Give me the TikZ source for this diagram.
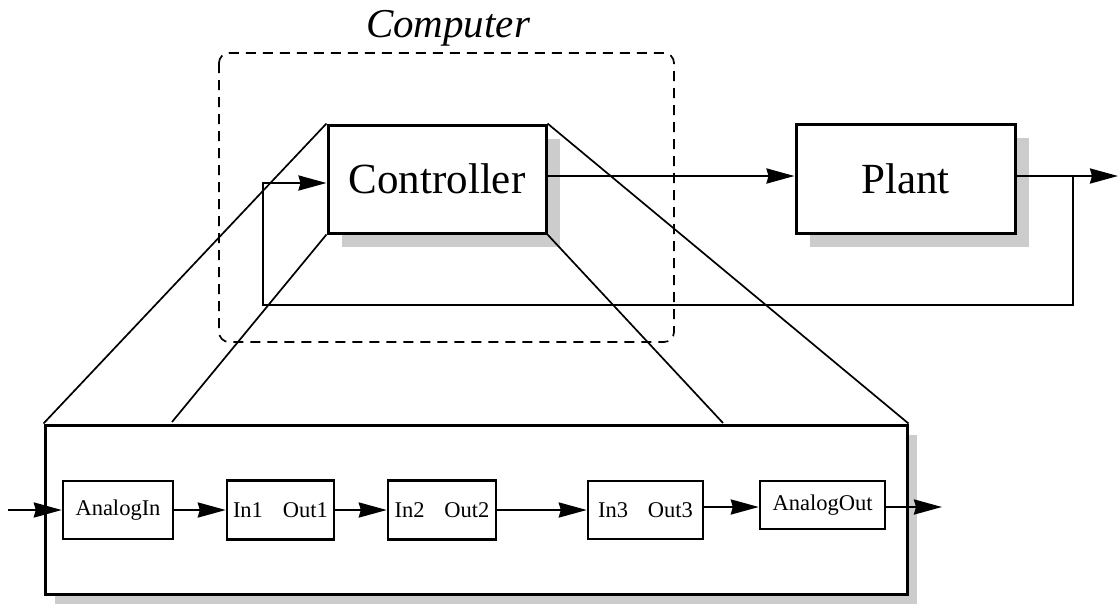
\documentclass[tikz,border=0pt]{standalone}
\usepackage{fontspec}
\setmainfont{Liberation Serif}
\usetikzlibrary{arrows.meta,shadows}
\begin{document}
\begin{tikzpicture}[x=1pt,y=-1pt,
  arr/.style={line width=2.4pt,-{Stealth[length=28pt,width=15pt,inset=2pt]}},
  bigbox/.style={draw,line width=3pt,fill=white,inner sep=0pt,
    drop shadow={shadow xshift=14pt,shadow yshift=-14pt,opacity=1,fill=gray!40}},
  smallbox/.style={draw,line width=2.4pt,fill=white,inner sep=0pt,font=\fontsize{22.5}{26}\selectfont},
  trap/.style={line width=1.7pt}]
\useasboundingbox (0,0) rectangle (1119,606);
% Computer dashed region
\draw[line width=1.7pt,dash pattern=on 10pt off 7pt,rounded corners=10pt] (219,53) rectangle (674,342);
\node[font=\fontsize{41}{48}\selectfont\itshape] (comp) at (448,28) {Computer};
% big expanded box
\node[draw,line width=3pt,fill=white,minimum width=862pt,minimum height=169pt,inner sep=0pt,
  drop shadow={shadow xshift=10pt,shadow yshift=-10pt,opacity=1,fill=gray!40}] (big) at (476,509.5) {};
% top blocks
\node[bigbox,minimum width=218pt,minimum height=108pt,font=\fontsize{43}{50}\selectfont] (ctrl) at (437,179) {Controller};
\node[bigbox,minimum width=219pt,minimum height=109pt,font=\fontsize{43}{50}\selectfont] (plant) at (905.5,178.5) {Plant};
% trapezoid lines
\coordinate (il) at (172,422);
\coordinate (ir) at (723,423);
\draw[trap] (ctrl.north west) -- (big.north west);
\draw[trap] (ctrl.north east) -- (big.north east);
\draw[trap] (ctrl.south west) -- (il);
\draw[trap] (ctrl.south east) -- (ir);
% top connections
\coordinate (lev) at (0,176);
\coordinate (yout) at (1118,176);
\coordinate (br) at (1073,176);
\coordinate (fb1) at (1073,305);
\coordinate (fb2) at (263,305);
\coordinate (fb3) at (263,183);
\draw[arr] (ctrl.east |- lev) -- (plant.west |- lev);
\draw[arr] (plant.east |- lev) -- (yout);
\draw[arr] (br) -- (fb1) -- (fb2) -- (fb3) -- (fb3 -| ctrl.west);
% inner blocks
\node[smallbox,minimum width=110pt,minimum height=58pt] (ain) at (118,510) {AnalogIn};
\node[smallbox,minimum width=107pt,minimum height=59pt] (b1) at (280.5,510) {In1\hspace{20pt}Out1};
\node[smallbox,minimum width=108pt,minimum height=59pt] (b2) at (442,510) {In2\hspace{20pt}Out2};
\node[smallbox,minimum width=115pt,minimum height=58pt] (b3) at (645.5,510) {In3\hspace{20pt}Out3};
\node[smallbox,minimum width=125pt,minimum height=48pt] (aout) at (822.5,505) {AnalogOut};
\coordinate (in) at (8,510);
\coordinate (out) at (942,507);
\draw[arr] (in) -- (ain.west);
\draw[arr] (ain.east) -- (b1.west);
\draw[arr] (b1.east) -- (b2.west);
\draw[arr] (b2.east) -- (b3.west);
\draw[arr] (b3.east |- out) -- (aout.west |- out);
\draw[arr] (aout.east |- out) -- (out);
\end{tikzpicture}
\end{document}
